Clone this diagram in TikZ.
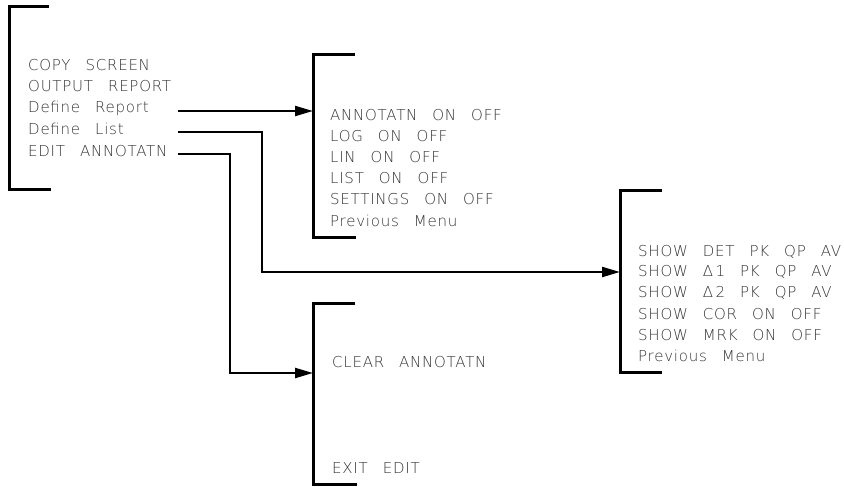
\documentclass[tikz,border=0pt]{standalone}
\usepackage{fontspec}
\usetikzlibrary{arrows.meta}
\newfontfamily\menufont{DejaVu Sans ExtraLight}[LetterSpace=5]
\newcommand{\gap}{\hspace{1.0em}}
\tikzset{
  menutext/.style={anchor=west, inner sep=0pt, font=\menufont\fontsize{15}{17}\selectfont, text=black!80},
  bracket/.style={line width=3pt},
  conn/.style={line width=2.2pt},
  arr/.style={conn, -{Triangle[length=18pt,width=10pt]}},
}
\begin{document}
\begin{tikzpicture}[x=1pt,y=-1pt]
\useasboundingbox (0,0) rectangle (844,487);
% brackets
\draw[bracket] (49,7) -- (9,7) -- (9,189) -- (51,189);
\draw[bracket] (355,55) -- (313,55) -- (313,237) -- (356,237);
\draw[bracket] (662,190) -- (620,190) -- (620,372) -- (662,372);
\draw[bracket] (355,303) -- (313,303) -- (313,484) -- (357,484);
% main menu
\node[menutext] (copy) at (28,65) {COPY\gap SCREEN};
\node[menutext] (outp) at (28,86) {OUTPUT\gap REPORT};
\node[menutext] (defr) at (28,108) {Define\gap Report};
\node[menutext] (defl) at (28,129) {Define\gap List};
\node[menutext] (edit) at (28,151) {EDIT\gap ANNOTATN};
% report menu
\node[menutext] (ann) at (330,115) {ANNOTATN\gap ON\gap OFF};
\node[menutext] (log) at (330,136) {LOG\gap ON\gap OFF};
\node[menutext] (lin) at (330,157) {LIN\gap ON\gap OFF};
\node[menutext] (list) at (330,178) {LIST\gap ON\gap OFF};
\node[menutext] (sett) at (330,199) {SETTINGS\gap ON\gap OFF};
\node[menutext] (prev1) at (330,221) {Previous\gap Menu};
% list menu
\node[menutext] (sdet) at (638,252) {SHOW\gap DET\gap PK\gap QP\gap AV};
\node[menutext] (sd1) at (638,272) {SHOW\gap Δ\,1\gap PK\gap QP\gap AV};
\node[menutext] (sd2) at (638,293) {SHOW\gap Δ\,2\gap PK\gap QP\gap AV};
\node[menutext] (scor) at (638,314) {SHOW\gap COR\gap ON\gap OFF};
\node[menutext] (smrk) at (638,335) {SHOW\gap MRK\gap ON\gap OFF};
\node[menutext] (prev2) at (638,356) {Previous\gap Menu};
% edit menu
\node[menutext] (clr) at (332,362) {CLEAR\gap ANNOTATN};
\node[menutext] (exit) at (332,468) {EXIT\gap EDIT};
% connector ends
\coordinate (sR) at (178,111);
\coordinate (sL) at (178,132);
\coordinate (sE) at (178,154);
\coordinate (tR) at (313,111);
\coordinate (tL) at (620,272);
\coordinate (tE) at (313,373);
\draw[arr] (sR) -- (tR);
\draw[arr] (sL) -| (262,272) -- (tL);
\draw[arr] (sE) -| (230,373) -- (tE);
\end{tikzpicture}
\end{document}
